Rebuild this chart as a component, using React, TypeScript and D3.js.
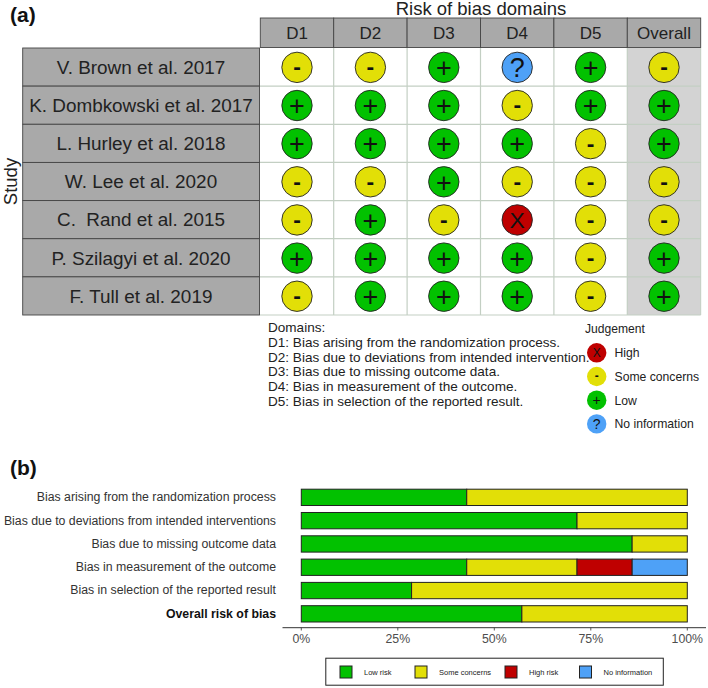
import React from "react";
import * as d3 from "d3";

const studies = ["V. Brown et al. 2017", "K. Dombkowski et al. 2017", "L. Hurley et al. 2018", "W. Lee et al. 2020", "C.  Rand et al. 2015", "P. Szilagyi et al. 2020", "F. Tull et al. 2019"];
const domains = ["D1", "D2", "D3", "D4", "D5", "Overall"];
const judgements = [
  ["-", "-", "+", "?", "+", "-"],
  ["+", "+", "+", "-", "+", "+"],
  ["+", "+", "+", "+", "-", "+"],
  ["-", "-", "+", "-", "-", "-"],
  ["-", "+", "-", "X", "-", "-"],
  ["+", "+", "+", "+", "-", "+"],
  ["-", "+", "+", "+", "-", "+"],
];
const domainNotes = ["Domains:", "D1: Bias arising from the randomization process.", "D2: Bias due to deviations from intended intervention.", "D3: Bias due to missing outcome data.", "D4: Bias in measurement of the outcome.", "D5: Bias in selection of the reported result."];
const judgementKeys = ["X", "-", "+", "?"];
const judgementLabels = ["High", "Some concerns", "Low", "No information"];

const biasLabels = ["Bias arising from the randomization process", "Bias due to deviations from intended interventions", "Bias due to missing outcome data", "Bias in measurement of the outcome", "Bias in selection of the reported result", "Overall risk of bias"];
const lowRisk = [42.86, 71.43, 85.71, 42.86, 28.57, 57.14];
const someConcerns = [57.14, 28.57, 14.29, 28.57, 71.43, 42.86];
const highRisk = [0, 0, 0, 14.29, 0, 0];
const noInfo = [0, 0, 0, 14.28, 0, 0];
const percentTicks = [0, 25, 50, 75, 100];
const barLegend = ["Low risk", "Some concerns", "High risk", "No information"];

const GREEN = "#02C100", YELLOW = "#E2DF07", RED = "#BF0000", BLUE = "#4EA1F7";
const colorOf: Record<string, string> = { "+": GREEN, "-": YELLOW, X: RED, "?": BLUE };
const FONT = "'Liberation Sans', Arial, sans-serif";
const INK = "#222";

const colX = d3.scaleBand<string>().domain(domains).range([260.3, 700.7]);
const rowY = d3.scaleBand<string>().domain(studies).range([48, 315]);
const barX = d3.scaleLinear().domain([0, 100]).range([301.3, 687.3]);
const barY = d3.scaleBand<string>().domain(biasLabels).range([485.7, 625.5]).paddingInner(0.3).paddingOuter(0.15);

const stacks = d3.stack<number>().keys(["0", "1", "2", "3"]).value((i, k) => [lowRisk, someConcerns, highRisk, noInfo][+k][i])(biasLabels.map((_, i) => i));
const stackColors = [GREEN, YELLOW, RED, BLUE];

function Mark({ cx, cy, r, k, size }: { cx: number; cy: number; r: number; k: string; size: number }) {
  const big = k === "+" || k === "?";
  return (
    <g>
      <circle cx={cx} cy={cy} r={r} fill={colorOf[k]} stroke={size > 20 ? "#222" : "none"} strokeWidth={0.9} />
      <text x={cx} y={cy} dy={k === "-" ? "0.3em" : "0.36em"} textAnchor="middle" fontFamily={FONT} fontSize={big ? size : size * 0.85} fontWeight={k === "-" ? 700 : 400} fill="#111">{k}</text>
    </g>
  );
}

export default function App() {
  const cw = colX.bandwidth(), rh = rowY.bandwidth();
  return (
    <svg width={708} height={688} viewBox="0 0 708 688" style={{ position: "absolute", left: 0, top: 0, background: "#fff" }} fontFamily={FONT}>
      <text x={10} y={22} fontSize={21} fontWeight={700} fill="#111">(a)</text>
      <text x={481} y={15} textAnchor="middle" fontSize={18.5} fill={INK}>Risk of bias domains</text>
      <text transform="translate(17,181.5) rotate(-90)" textAnchor="middle" fontSize={18.5} fill={INK}>Study</text>

      <rect x={colX("Overall")!} y={48} width={cw} height={267} fill="#D3D3D3" />
      {domains.slice(1).map(d => (
        <line key={d} x1={colX(d)!} x2={colX(d)!} y1={48} y2={315} stroke="#c3cfc3" strokeWidth={1.2} />
      ))}
      <line x1={700.7} x2={700.7} y1={48} y2={315} stroke="#c3cfc3" strokeWidth={1} />
      {studies.map(s => (
        <line key={s} x1={260} x2={700.7} y1={rowY(s)! + rh} y2={rowY(s)! + rh} stroke="#c3cfc3" strokeWidth={1.2} />
      ))}
      {domains.map(d => (
        <g key={d}>
          <rect x={colX(d)!} y={18} width={cw} height={29.5} fill="#A9A9A9" stroke="#444" strokeWidth={0.9} />
          <text x={colX(d)! + cw / 2} y={33} dy="0.36em" textAnchor="middle" fontSize={17} fill={INK}>{d}</text>
        </g>
      ))}
      {studies.map(s => (
        <g key={s}>
          <rect x={22.7} y={rowY(s)!} width={236.8} height={rh} fill="#A9A9A9" stroke="#444" strokeWidth={0.9} />
          <text x={141} y={rowY(s)! + rh / 2} dy="0.36em" textAnchor="middle" fontSize={18.9} xmlSpace="preserve" fill={INK}>{s}</text>
        </g>
      ))}
      {studies.map((s, i) => domains.map((d, j) => (
        <Mark key={s + d} cx={colX(d)! + cw / 2} cy={rowY(s)! + rh / 2 + 0.3} r={15.2} k={judgements[i][j]} size={27} />
      )))}

      {domainNotes.map((t, i) => (
        <text key={t} x={268} y={332 + i * 14.78} fontSize={13.55} fill={INK}>{t}</text>
      ))}
      <text x={585} y={333} fontSize={12.1} fill={INK}>Judgement</text>
      {judgementKeys.map((k, i) => (
        <g key={k}>
          <Mark cx={596.7} cy={352.8 + i * 23.7} r={9.7} k={k} size={14} />
          <text x={614.5} y={352.8 + i * 23.7} dy="0.36em" fontSize={12.2} fill={INK}>{judgementLabels[i]}</text>
        </g>
      ))}

      <text x={10} y={475} fontSize={21} fontWeight={700} fill="#111">(b)</text>
      {biasLabels.map((b, i) => (
        <text key={b} x={276} y={barY(b)! + barY.bandwidth() / 2 - 0.5} dy="0.36em" textAnchor="end" fontSize={12.3} fontWeight={i === 5 ? 700 : 400} fill={i === 5 ? "#111" : "#333"}>{b}</text>
      ))}
      {stacks.map((series, si) => series.map((seg, i) => seg[1] - seg[0] > 0 && (
        <rect key={si + "-" + i} x={barX(seg[0])} y={barY(biasLabels[i])!} width={barX(seg[1]) - barX(seg[0])} height={barY.bandwidth()} fill={stackColors[si]} stroke="#222" strokeWidth={1} />
      )))}
      <line x1={282.5} x2={706} y1={627.7} y2={627.7} stroke="#333" strokeWidth={1} />
      {percentTicks.map(t => (
        <g key={t}>
          <line x1={barX(t)} x2={barX(t)} y1={627.7} y2={630.5} stroke="#333" strokeWidth={0.8} />
          <text x={barX(t)} y={638.5} dy="0.36em" textAnchor="middle" fontSize={12.3} fill="#4d4d4d">{t}%</text>
        </g>
      ))}
      <rect x={325.8} y={658.2} width={337.5} height={27} fill="#fff" stroke="#222" strokeWidth={1} />
      {barLegend.map((l, i) => {
        const x = [340, 415, 505, 579.5][i];
        return (
          <g key={l}>
            <rect x={x} y={666} width={12} height={12} fill={stackColors[i]} stroke="#222" strokeWidth={1} />
            <text x={x + 24} y={672} dy="0.36em" fontSize={7.5} fill="#222">{l}</text>
          </g>
        );
      })}
    </svg>
  );
}
